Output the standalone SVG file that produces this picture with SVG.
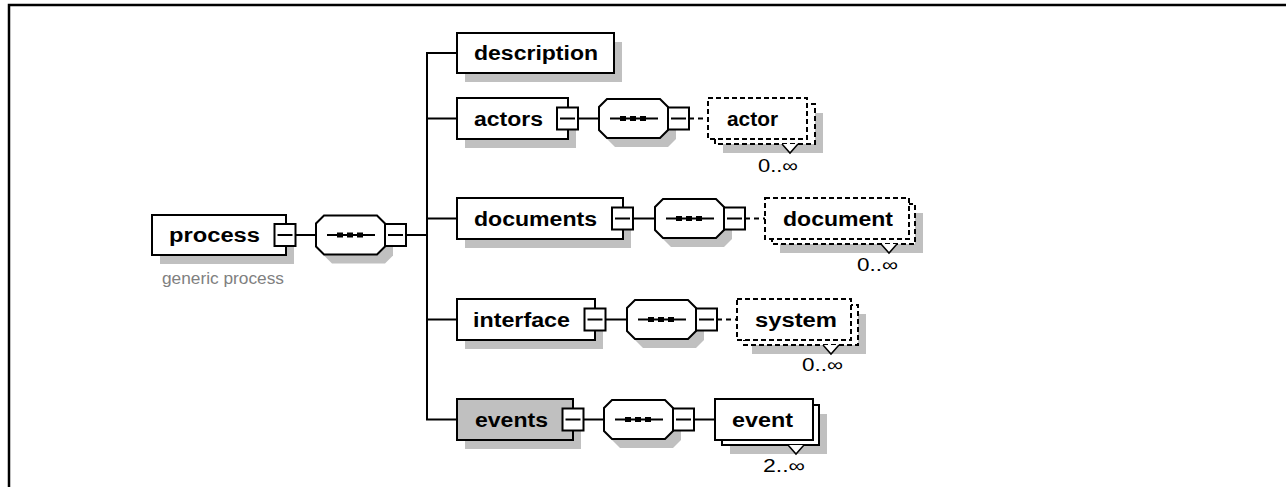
<svg xmlns="http://www.w3.org/2000/svg" xmlns:xlink="http://www.w3.org/1999/xlink" width="1286" height="487" viewBox="0 0 1286 487">
<style>
.bg{fill:#fff}
.box{fill:#fff;stroke:#000;stroke-width:2}
.gbox{fill:#c0c0c0;stroke:#000;stroke-width:2}
.dbox{fill:#fff;stroke:#000;stroke-width:2;stroke-dasharray:5 3}
.shadow{fill:#c0c0c0;stroke:none}
.conn{stroke:#000;stroke-width:2;fill:none}
.dconn{stroke:#000;stroke-width:2;fill:none;stroke-dasharray:5 4}
.lbl{font-family:"Liberation Sans",Arial,sans-serif;font-weight:bold;font-size:20px;fill:#000}
.occ{font-family:"Liberation Sans",Arial,sans-serif;font-size:18px;fill:#000}
.note{font-family:"Liberation Sans",Arial,sans-serif;font-size:16px;fill:#808080}
.frame{stroke:#000;stroke-width:2.5;fill:none}
.notch{fill:#fff;stroke:#000;stroke-width:1.5}
</style>
<defs>
<g id="minus">
<rect class="box" x="-10.5" y="-11" width="21" height="22"/>
<line class="conn" x1="-7.5" y1="0" x2="7.5" y2="0" stroke-width="1.5"/>
</g>
<g id="seq">
<polygon class="shadow" points="16,-10.5 69,-10.5 77,-2.5 77,20.5 69,28.5 16,28.5 8,20.5 8,-2.5"/>
<polygon class="box" points="8,-19.5 61,-19.5 69,-11.5 69,11.5 61,19.5 8,19.5 0,11.5 0,-11.5"/>
<line class="conn" x1="11" y1="0" x2="59" y2="0"/>
<rect x="21" y="-2.5" width="6" height="5" fill="#000"/>
<rect x="31" y="-2.5" width="6" height="5" fill="#000"/>
<rect x="41" y="-2.5" width="6" height="5" fill="#000"/>
<use xlink:href="#minus" href="#minus" x="79.5" y="0"/>
</g>
</defs>
<rect class="bg" x="0" y="0" width="1286" height="487"/>
<path class="frame" d="M9,487 V5 H1286"/>

<g id="connectors">
<line class="conn" x1="296" y1="235" x2="316" y2="235"/>
<line class="conn" x1="406" y1="235" x2="427" y2="235"/>
<line class="conn" x1="427" y1="53" x2="427" y2="419.5"/>
<line class="conn" x1="426" y1="53" x2="457" y2="53"/>
<line class="conn" x1="427" y1="118.5" x2="457" y2="118.5"/>
<line class="conn" x1="427" y1="218.5" x2="457" y2="218.5"/>
<line class="conn" x1="427" y1="319.5" x2="457" y2="319.5"/>
<line class="conn" x1="426" y1="419.5" x2="457" y2="419.5"/>
<line class="conn" x1="578" y1="118.5" x2="599" y2="118.5"/>
<line class="dconn" x1="689" y1="118.5" x2="708" y2="118.5"/>
<line class="conn" x1="633" y1="218.5" x2="655" y2="218.5"/>
<line class="dconn" x1="745" y1="218.5" x2="765" y2="218.5"/>
<line class="conn" x1="605" y1="319.5" x2="627" y2="319.5"/>
<line class="dconn" x1="717" y1="319.5" x2="737" y2="319.5"/>
<line class="conn" x1="583" y1="419.5" x2="604" y2="419.5"/>
<line class="conn" x1="694" y1="419.5" x2="715" y2="419.5"/>
</g>

<g id="process">
<rect class="shadow" x="160" y="224" width="134" height="40"/>
<rect class="box" x="152" y="215" width="134" height="40"/>
<text class="lbl" x="169" y="242" textLength="91" lengthAdjust="spacingAndGlyphs">process</text>
<use xlink:href="#minus" href="#minus" x="285" y="235"/>
<text class="note" x="162" y="284" textLength="122" lengthAdjust="spacingAndGlyphs">generic process</text>
</g>
<g id="seq-process"><use xlink:href="#seq" href="#seq" x="316" y="235"/></g>

<g id="description">
<rect class="shadow" x="465" y="42" width="157" height="40"/>
<rect class="box" x="457" y="33" width="157" height="40"/>
<text class="lbl" x="474" y="60" textLength="124" lengthAdjust="spacingAndGlyphs">description</text>
</g>

<g id="actors">
<rect class="shadow" x="465" y="107" width="111" height="41"/>
<rect class="box" x="457" y="98" width="111" height="41"/>
<text class="lbl" x="474" y="125.5" textLength="69" lengthAdjust="spacingAndGlyphs">actors</text>
<use xlink:href="#minus" href="#minus" x="567.5" y="118.5"/>
</g>
<g id="seq-actors"><use xlink:href="#seq" href="#seq" x="599" y="118.5"/></g>
<g id="actor">
<rect class="shadow" x="723" y="113" width="100" height="40"/>
<rect class="dbox" x="715" y="104" width="100" height="40"/>
<rect class="dbox" x="708" y="98" width="99" height="41"/>
<text class="lbl" x="727" y="125.5" textLength="51" lengthAdjust="spacingAndGlyphs">actor</text>
<polyline class="notch" points="782,144 790,153 798,144"/>
<text class="occ" x="758" y="172" textLength="40" lengthAdjust="spacingAndGlyphs">0..∞</text>
</g>

<g id="documents">
<rect class="shadow" x="465" y="207" width="166" height="41"/>
<rect class="box" x="457" y="198" width="166" height="41"/>
<text class="lbl" x="474" y="225.5" textLength="123" lengthAdjust="spacingAndGlyphs">documents</text>
<use xlink:href="#minus" href="#minus" x="622.5" y="218.5"/>
</g>
<g id="seq-documents"><use xlink:href="#seq" href="#seq" x="655" y="218.5"/></g>
<g id="document">
<rect class="shadow" x="780" y="213" width="143" height="40"/>
<rect class="dbox" x="772" y="204" width="143" height="40"/>
<rect class="dbox" x="765" y="198" width="144" height="41"/>
<text class="lbl" x="783" y="225.5" textLength="110" lengthAdjust="spacingAndGlyphs">document</text>
<polyline class="notch" points="881,244 889,253 897,244"/>
<text class="occ" x="857" y="271" textLength="41" lengthAdjust="spacingAndGlyphs">0..∞</text>
</g>

<g id="interface">
<rect class="shadow" x="465" y="308" width="138" height="41"/>
<rect class="box" x="457" y="299" width="138" height="41"/>
<text class="lbl" x="473" y="326.5" textLength="97" lengthAdjust="spacingAndGlyphs">interface</text>
<use xlink:href="#minus" href="#minus" x="595" y="319.5"/>
</g>
<g id="seq-interface"><use xlink:href="#seq" href="#seq" x="627" y="319.5"/></g>
<g id="system">
<rect class="shadow" x="752" y="314" width="114" height="40"/>
<rect class="dbox" x="744" y="305" width="114" height="40"/>
<rect class="dbox" x="737" y="299" width="114" height="41"/>
<text class="lbl" x="755" y="326.5" textLength="82" lengthAdjust="spacingAndGlyphs">system</text>
<polyline class="notch" points="823,345 831,354 839,345"/>
<text class="occ" x="802" y="371" textLength="41" lengthAdjust="spacingAndGlyphs">0..∞</text>
</g>

<g id="events">
<rect class="shadow" x="465" y="408" width="116" height="41"/>
<rect class="gbox" x="457" y="399" width="116" height="41"/>
<text class="lbl" x="475" y="426.5" textLength="73" lengthAdjust="spacingAndGlyphs">events</text>
<use xlink:href="#minus" href="#minus" x="573" y="419.5"/>
</g>
<g id="seq-events"><use xlink:href="#seq" href="#seq" x="604" y="419.5"/></g>
<g id="event">
<rect class="shadow" x="730" y="414" width="97" height="40"/>
<rect class="box" x="722" y="405" width="97" height="40"/>
<rect class="box" x="715" y="399" width="98" height="41"/>
<text class="lbl" x="732" y="426.5" textLength="61" lengthAdjust="spacingAndGlyphs">event</text>
<polyline class="notch" points="788,445 796,454 804,445"/>
<text class="occ" x="763" y="472" textLength="42" lengthAdjust="spacingAndGlyphs">2..∞</text>
</g>
</svg>
